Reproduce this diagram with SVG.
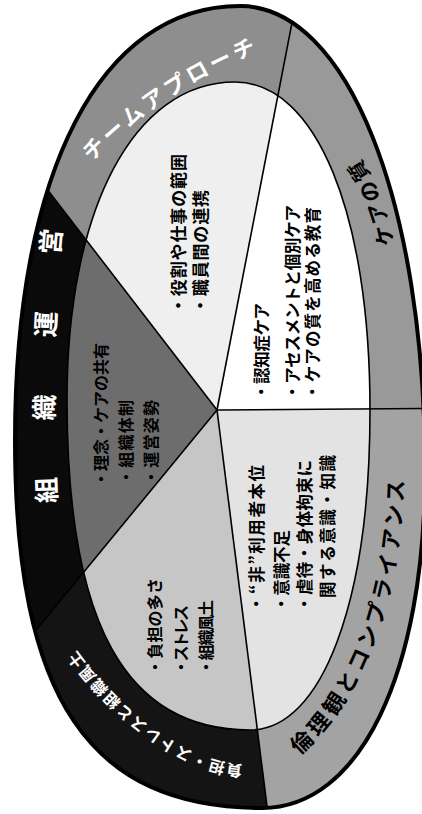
<svg xmlns="http://www.w3.org/2000/svg" width="422" height="814" viewBox="0 0 422 814" lang="ja">
<style>
.t{font-family:"Noto Sans CJK JP","Noto Sans",sans-serif;}
.pt{font-weight:bold;fill:#000;}
.lbl{font-weight:bold;dominant-baseline:central;}
.dv{stroke:#000;stroke-width:1.6;fill:none;}
</style>
<defs>
<path id="outer" d="M15,440 C15,171 100.5,6 240,6 C347,6 425,201 425,470 C425,673 360,808 262,808 C89,808 15,698 15,440Z"/>
<path id="inner" d="M67,400 C67,209 134,82 235,82 C316,82 370,213 370,410 C370,602 322,730 250,730 C125.6,730 67,624 67,400Z"/>
<clipPath id="co"><path d="M15,440 C15,171 100.5,6 240,6 C347,6 425,201 425,470 C425,673 360,808 262,808 C89,808 15,698 15,440Z"/></clipPath>
<clipPath id="ci"><path d="M67,400 C67,209 134,82 235,82 C316,82 370,213 370,410 C370,602 322,730 250,730 C125.6,730 67,624 67,400Z"/></clipPath>
<path id="p-team" d="M80,160 C125,112 190,66 262,40"/>
<path id="p-care" d="M385,246 C381,225 372,190 350,160"/>
<path id="p-ethic" d="M292,748 C350,700 396,600 394,455"/>
<path id="p-burden" d="M242,772 C190,770 120,725 66,648"/>
<path id="p-org" d="M45,503 C40,420 41,320 52,200"/>
</defs>

<g id="ring" clip-path="url(#co)">
  <g id="ring-team">
    <polygon points="217,410 -284,-241 399.5,-532.5" fill="#8e8e8e"/>
  </g>
  <g id="ring-care">
    <polygon points="217,410 399.5,-532.5 900,-532 900,405" fill="#999999"/>
  </g>
  <g id="ring-ethic">
    <polygon points="217,410 900,405 900,1361 337,1361" fill="#a3a3a3"/>
  </g>
  <g id="ring-burden">
    <polygon points="217,410 337,1361 -453,1225" fill="#141414"/>
  </g>
  <g id="ring-org">
    <polygon points="217,410 -453,1225 -453,-241 -284,-241" fill="#0a0a0a"/>
  </g>
</g>

<g id="pie" clip-path="url(#ci)">
  <g id="pie-team"><polygon points="217,410 -284,-241 399.5,-532.5" fill="#efefef"/></g>
  <g id="pie-care"><polygon points="217,410 399.5,-532.5 900,-532 900,405" fill="#ffffff"/></g>
  <g id="pie-ethic"><polygon points="217,410 900,405 900,1361 337,1361" fill="#e3e3e3"/></g>
  <g id="pie-burden"><polygon points="217,410 337,1361 -453,1225" fill="#c6c6c6"/></g>
  <g id="pie-org"><polygon points="217,410 -453,1225 -453,-241 -284,-241" fill="#6d6d6d"/></g>
</g>

<g id="connectors" clip-path="url(#co)">
  <line class="dv" x1="217" y1="410" x2="-284" y2="-241"/>
  <line class="dv" x1="217" y1="410" x2="399.5" y2="-532.5"/>
  <line class="dv" x1="217" y1="410" x2="900" y2="405"/>
  <line class="dv" x1="217" y1="410" x2="337" y2="1361"/>
  <line class="dv" x1="217" y1="410" x2="-453" y2="1225"/>
</g>
<use href="#inner" fill="none" stroke="#000" stroke-width="1.6"/>
<use href="#outer" fill="none" stroke="#000" stroke-width="4"/>

<g id="labels-ring">
  <text class="t lbl" font-size="22" letter-spacing="4" fill="#fff"><textPath href="#p-team" startOffset="7">チームアプローチ</textPath></text>
  <text class="t lbl" font-size="21" letter-spacing="2" fill="#000"><textPath href="#p-care" startOffset="0">ケアの質</textPath></text>
  <text class="t lbl" font-size="22" letter-spacing="3" fill="#000"><textPath href="#p-ethic" startOffset="0">倫理観とコンプライアンス</textPath></text>
  <text class="t lbl" font-size="16" letter-spacing="2" fill="#fff"><textPath href="#p-burden" startOffset="0">負担・ストレスと組織風土</textPath></text>
  <text class="t lbl" font-size="26" letter-spacing="57" fill="#fff"><textPath href="#p-org" startOffset="0">組織運営</textPath></text>
</g>

<g id="text-team" class="t pt" font-size="17">
  <text transform="translate(185,314) rotate(-90)" textLength="160" lengthAdjust="spacing">・役割や仕事の範囲</text>
  <text transform="translate(206.5,314) rotate(-90)" textLength="124" lengthAdjust="spacing">・職員間の連携</text>
</g>
<g id="text-care" class="t pt" font-size="16.5">
  <text transform="translate(268,400) rotate(-90)" textLength="97" lengthAdjust="spacing">・認知症ケア</text>
  <text transform="translate(299,400) rotate(-90)" textLength="195" lengthAdjust="spacing">・アセスメントと個別ケア</text>
  <text transform="translate(319,400) rotate(-90)" textLength="193" lengthAdjust="spacing">・ケアの質を高める教育</text>
</g>
<g id="text-ethic" class="t pt" font-size="16.5">
  <text transform="translate(263,612) rotate(-90)" textLength="147" lengthAdjust="spacing">・“非”利用者本位</text>
  <text transform="translate(288,612) rotate(-90)" textLength="82" lengthAdjust="spacing">・意識不足</text>
  <text transform="translate(311,612) rotate(-90)" textLength="152" lengthAdjust="spacing">・虐待・身体拘束に</text>
  <text transform="translate(334,598) rotate(-90)" textLength="143" lengthAdjust="spacing">関する意識・知識</text>
</g>
<g id="text-burden" class="t pt" font-size="16">
  <text transform="translate(161,675) rotate(-90)" textLength="97" lengthAdjust="spacing">・負担の多さ</text>
  <text transform="translate(187,675) rotate(-90)" textLength="70" lengthAdjust="spacing">・ストレス</text>
  <text transform="translate(212,675) rotate(-90)" textLength="75" lengthAdjust="spacing">・組織風土</text>
</g>
<g id="text-org" class="t pt" font-size="16">
  <text transform="translate(107,487) rotate(-90)" textLength="144" lengthAdjust="spacing">・理念・ケアの共有</text>
  <text transform="translate(132,485) rotate(-90)" textLength="85" lengthAdjust="spacing">・組織体制</text>
  <text transform="translate(157,485) rotate(-90)" textLength="85" lengthAdjust="spacing">・運営姿勢</text>
</g>
</svg>
